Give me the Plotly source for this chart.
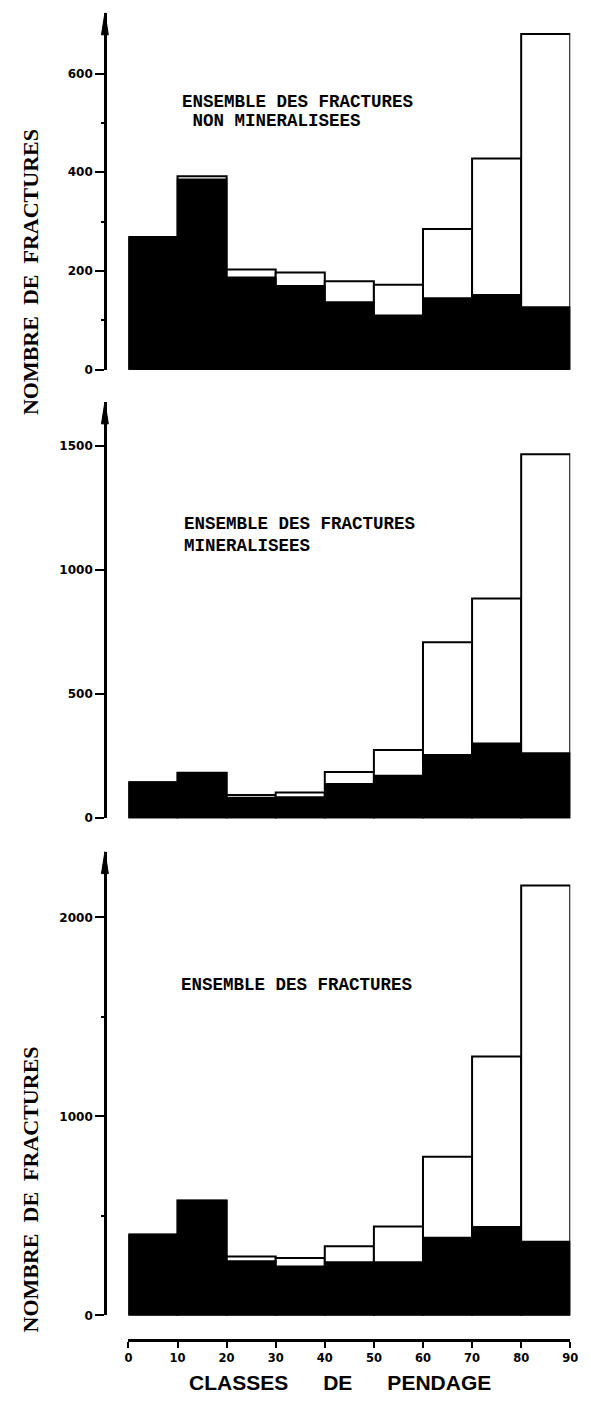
import plotly.graph_objects as go

# Dip classes (degrees): left edge of each 10-degree class
bin_left = [0, 10, 20, 30, 40, 50, 60, 70, 80]
bin_width = 10
x_tickvals = [0, 10, 20, 30, 40, 50, 60, 70, 80, 90]
x_ticktext = ["0", "10", "20", "30", "40", "50", "60", "70", "80", "90"]

# Non-mineralised fractures: whole class count and dark (lower) part
nonmin_total = [269, 392, 203, 197, 179, 172, 285, 428, 680]
nonmin_dark = [269, 386, 187, 170, 137, 110, 145, 152, 127]

# Mineralised fractures
min_total = [145, 183, 93, 103, 186, 274, 708, 884, 1465]
min_dark = [145, 183, 83, 85, 139, 172, 255, 302, 262]

# All fractures
all_total = [407, 578, 296, 288, 348, 447, 797, 1301, 2160]
all_dark = [407, 578, 273, 247, 268, 268, 392, 446, 371]

top_ticks = [0, 200, 400, 600]
top_minor = [100, 300, 500]
mid_ticks = [0, 500, 1000, 1500]
bot_ticks = [0, 1000, 2000]
bot_minor = [500, 1500]

titles = [
    ["ENSEMBLE DES FRACTURES", " NON MINERALISEES"],
    ["ENSEMBLE DES FRACTURES", "MINERALISEES"],
    ["ENSEMBLE DES FRACTURES"],
]

# ---- page geometry (pixels) ----
W, H = 591, 1402
X0_PX, X1_PX = 127, 578      # plotting area, left/right
YAX_PX = 103                 # vertical axis line


def py(p):
    return 1 - p / H


# zero line, arrow tip, pixels per unit
panels = [
    dict(zero=371.5, tip=13, scale=0.496),
    dict(zero=822.3, tip=404, scale=0.2497),
    dict(zero=1322.0, tip=856, scale=0.200),
]

series = [(nonmin_total, nonmin_dark), (min_total, min_dark), (all_total, all_dark)]
ticksets = [(top_ticks, top_minor), (mid_ticks, []), (bot_ticks, bot_minor)]
title_pos = [[(180, 103), (180, 122)], [(182, 527), (182, 549)], [(179, 990)]]

fig = go.Figure()
tick_font = dict(family="DejaVu Sans", size=12, color="black", weight="bold")

layout = dict(
    width=W, height=H,
    margin=dict(l=0, r=0, t=0, b=0),
    paper_bgcolor="white", plot_bgcolor="rgba(0,0,0,0)",
    barmode="overlay", showlegend=False,
)
shapes = []
annotations = []

for i, (pan, (tot, dark), (tv, mv)) in enumerate(zip(panels, series, ticksets), start=1):
    xa = "x" if i == 1 else f"x{i}"
    ya = "y" if i == 1 else f"y{i}"
    fig.add_trace(go.Bar(
        x=bin_left, y=tot, offset=0, width=bin_width,
        marker=dict(color="white", line=dict(color="black", width=2)),
        xaxis=xa, yaxis=ya, hoverinfo="skip",
    ))
    fig.add_trace(go.Bar(
        x=bin_left, y=dark, offset=0, width=bin_width,
        marker=dict(color="black", line=dict(color="black", width=1.5)),
        xaxis=xa, yaxis=ya, hoverinfo="skip",
    ))
    ytop = (pan["zero"] - pan["tip"]) / pan["scale"]
    yax = dict(
        domain=[py(pan["zero"]), py(pan["tip"])],
        range=[0, ytop], anchor="free", position=YAX_PX / W,
        showline=True, linecolor="black", linewidth=2.5,
        showgrid=False, zeroline=False,
        ticks="outside", ticklen=9, tickwidth=2, tickcolor="black",
        tickmode="array", tickvals=tv, ticktext=[str(v) for v in tv],
        tickfont=tick_font,
    )
    if mv:
        yax["minor"] = dict(tickvals=mv, ticks="outside", ticklen=3,
                            tickwidth=1.5, tickcolor="black", showgrid=False)
    xax = dict(domain=[X0_PX / W, X1_PX / W], range=[0, 90],
               showgrid=False, zeroline=False)
    if i < 3:
        xax.update(visible=False, anchor=ya)
    else:
        xax.update(
            anchor="free", position=py(1346.8),
            showline=True, linecolor="black", linewidth=2.5,
            ticks="outside", ticklen=6, tickwidth=2, tickcolor="black",
            tickmode="array", tickvals=x_tickvals, ticktext=x_ticktext,
            tickfont=dict(family="DejaVu Sans", size=11.5, color="black", weight="bold"),
        )
    layout["xaxis" if i == 1 else f"xaxis{i}"] = xax
    layout["yaxis" if i == 1 else f"yaxis{i}"] = yax

    # arrow head at the top of the vertical axis
    tip = pan["tip"]
    shapes.append(dict(
        type="path", xref="paper", yref="paper",
        path=(f"M {(YAX_PX - 3.5) / W} {py(tip + 22)} "
              f"L {YAX_PX / W} {py(tip)} L {(YAX_PX + 3.5) / W} {py(tip + 22)} Z"),
        fillcolor="black", line=dict(color="black", width=1),
    ))

    for text, (tx, ty) in zip(titles[i - 1], title_pos[i - 1]):
        annotations.append(dict(
            text=text.replace(" ", "\u00a0"), xref="paper", yref="paper",
            x=tx / W, y=py(ty), xanchor="left", yanchor="middle", showarrow=False,
            font=dict(family="Liberation Mono", size=17.5, color="black", weight="bold"),
        ))

# vertical axis titles
for cy in (273, 1195):
    annotations.append(dict(
        text="NOMBRE\u00a0\u00a0DE\u00a0\u00a0FRACTURES", textangle=-90,
        xref="paper", yref="paper", x=27 / W, y=py(cy),
        xanchor="center", yanchor="middle", showarrow=False,
        font=dict(family="Liberation Serif", size=22, color="black", weight="bold"),
    ))

# horizontal axis title
annotations.append(dict(
    text="CLASSES" + "\u00a0" * 6 + "DE" + "\u00a0" * 6 + "PENDAGE",
    xref="paper", yref="paper", x=343 / W, y=py(1389),
    xanchor="center", yanchor="middle", showarrow=False,
    font=dict(family="Liberation Sans", size=21, color="black", weight="bold"),
))

layout["shapes"] = shapes
layout["annotations"] = annotations
fig.update_layout(**layout)

fig.write_html("out.html")
